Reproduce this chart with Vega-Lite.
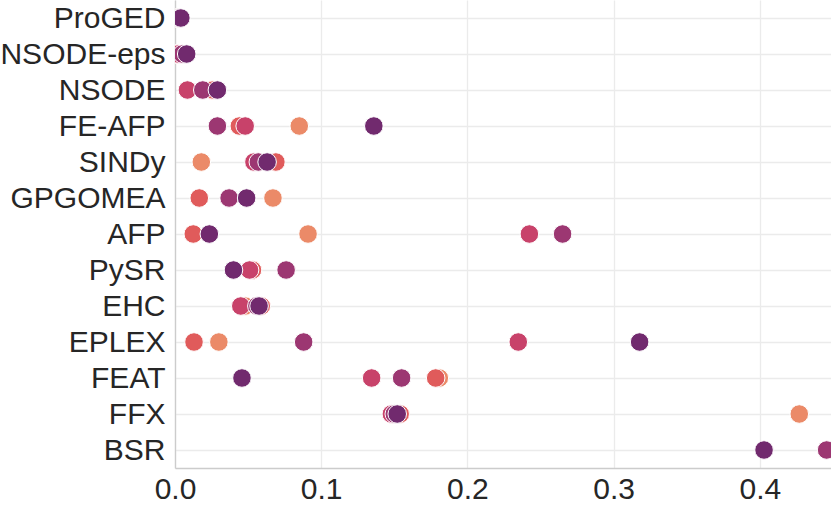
{
  "$schema": "https://vega.github.io/schema/vega-lite/v6.json",
  "width": 656,
  "height": 468,
  "autosize": {"type": "none"},
  "padding": {"left": 175, "top": 0, "right": 0, "bottom": 39},
  "background": "white",
  "data": {
    "values": [
      {"method": "ProGED", "level": 1, "value": 0.001},
      {"method": "ProGED", "level": 2, "value": 0.002},
      {"method": "ProGED", "level": 3, "value": 0.002},
      {"method": "ProGED", "level": 4, "value": 0.003},
      {"method": "ProGED", "level": 5, "value": 0.004},
      {"method": "NSODE-eps", "level": 1, "value": 0.0},
      {"method": "NSODE-eps", "level": 2, "value": 0.001},
      {"method": "NSODE-eps", "level": 3, "value": 0.002},
      {"method": "NSODE-eps", "level": 4, "value": 0.005},
      {"method": "NSODE-eps", "level": 5, "value": 0.008},
      {"method": "NSODE", "level": 1, "value": 0.025},
      {"method": "NSODE", "level": 2, "value": 0.026},
      {"method": "NSODE", "level": 3, "value": 0.0085},
      {"method": "NSODE", "level": 4, "value": 0.019},
      {"method": "NSODE", "level": 5, "value": 0.029},
      {"method": "FE-AFP", "level": 1, "value": 0.085},
      {"method": "FE-AFP", "level": 2, "value": 0.044},
      {"method": "FE-AFP", "level": 3, "value": 0.048},
      {"method": "FE-AFP", "level": 4, "value": 0.029},
      {"method": "FE-AFP", "level": 5, "value": 0.136},
      {"method": "SINDy", "level": 1, "value": 0.018},
      {"method": "SINDy", "level": 2, "value": 0.069},
      {"method": "SINDy", "level": 3, "value": 0.054},
      {"method": "SINDy", "level": 4, "value": 0.057},
      {"method": "SINDy", "level": 5, "value": 0.063},
      {"method": "GPGOMEA", "level": 1, "value": 0.067},
      {"method": "GPGOMEA", "level": 2, "value": 0.0166},
      {"method": "GPGOMEA", "level": 3, "value": 0.037},
      {"method": "GPGOMEA", "level": 4, "value": 0.037},
      {"method": "GPGOMEA", "level": 5, "value": 0.049},
      {"method": "AFP", "level": 1, "value": 0.091},
      {"method": "AFP", "level": 2, "value": 0.0125},
      {"method": "AFP", "level": 3, "value": 0.2424},
      {"method": "AFP", "level": 4, "value": 0.2651},
      {"method": "AFP", "level": 5, "value": 0.0235},
      {"method": "PySR", "level": 1, "value": 0.053},
      {"method": "PySR", "level": 2, "value": 0.053},
      {"method": "PySR", "level": 3, "value": 0.051},
      {"method": "PySR", "level": 4, "value": 0.076},
      {"method": "PySR", "level": 5, "value": 0.04},
      {"method": "EHC", "level": 1, "value": 0.048},
      {"method": "EHC", "level": 2, "value": 0.059},
      {"method": "EHC", "level": 3, "value": 0.045},
      {"method": "EHC", "level": 4, "value": 0.056},
      {"method": "EHC", "level": 5, "value": 0.0575},
      {"method": "EPLEX", "level": 1, "value": 0.03},
      {"method": "EPLEX", "level": 2, "value": 0.013},
      {"method": "EPLEX", "level": 3, "value": 0.2348},
      {"method": "EPLEX", "level": 4, "value": 0.088},
      {"method": "EPLEX", "level": 5, "value": 0.3178},
      {"method": "FEAT", "level": 1, "value": 0.1808},
      {"method": "FEAT", "level": 2, "value": 0.1783},
      {"method": "FEAT", "level": 3, "value": 0.1345},
      {"method": "FEAT", "level": 4, "value": 0.155},
      {"method": "FEAT", "level": 5, "value": 0.0458},
      {"method": "FFX", "level": 1, "value": 0.427},
      {"method": "FFX", "level": 2, "value": 0.154},
      {"method": "FFX", "level": 3, "value": 0.148},
      {"method": "FFX", "level": 4, "value": 0.15},
      {"method": "FFX", "level": 5, "value": 0.152},
      {"method": "BSR", "level": 4, "value": 0.4457},
      {"method": "BSR", "level": 5, "value": 0.4029}
    ]
  },
  "mark": {"type": "point", "filled": true, "shape": "circle", "size": 345, "opacity": 1, "stroke": "white", "strokeWidth": 1, "clip": true},
  "encoding": {
    "y": {
      "field": "method",
      "type": "nominal",
      "sort": ["ProGED", "NSODE-eps", "NSODE", "FE-AFP", "SINDy", "GPGOMEA", "AFP", "PySR", "EHC", "EPLEX", "FEAT", "FFX", "BSR"],
      "scale": {"padding": 0.5},
      "axis": {"title": null, "labelPadding": 10}
    },
    "x": {
      "field": "value",
      "type": "quantitative",
      "scale": {"domain": [0, 0.4487], "nice": false, "zero": false},
      "axis": {"title": null, "values": [0, 0.1, 0.2, 0.3, 0.4], "format": ".1f", "labelPadding": 6, "labelFlush": false}
    },
    "color": {
      "field": "level",
      "type": "nominal",
      "scale": {"domain": [1, 2, 3, 4, 5], "range": ["#eb8a68", "#e05b5b", "#c8426a", "#9c3772", "#712a6e"]},
      "legend": null
    },
    "order": {"field": "level", "type": "quantitative"}
  },
  "config": {
    "view": {"stroke": null},
    "font": "Liberation Sans",
    "axis": {
      "labelFont": "Liberation Sans",
      "labelFontSize": 30,
      "labelColor": "#262626",
      "tickSize": 0,
      "ticks": false,
      "grid": true,
      "gridColor": "#ebebeb",
      "gridWidth": 1.3,
      "domainColor": "#cccccc",
      "domainWidth": 1.3
    }
  }
}
